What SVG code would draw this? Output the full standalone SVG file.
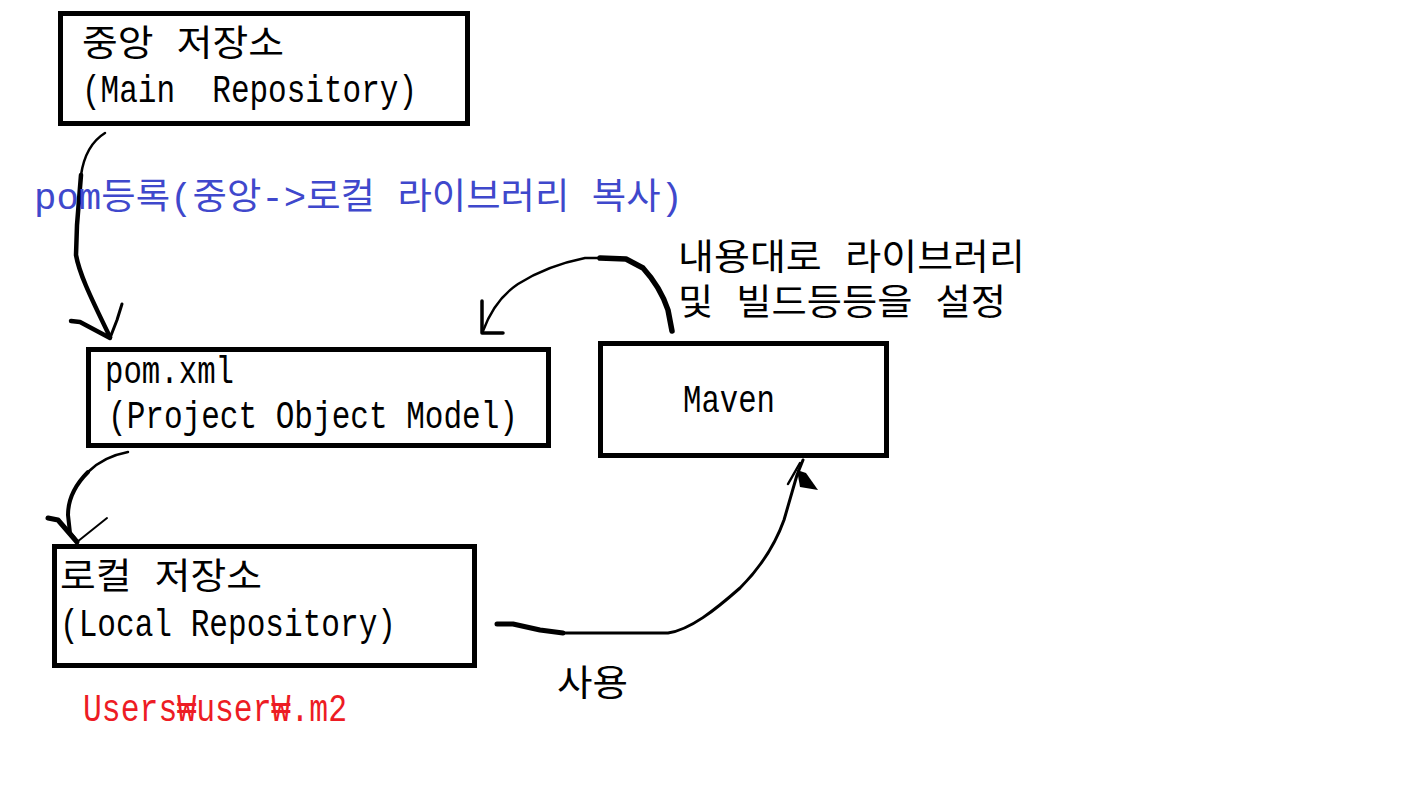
<svg xmlns="http://www.w3.org/2000/svg" width="1427" height="788" viewBox="0 0 1427 788">
<style>
.box{fill:#fff;stroke:#000;stroke-width:5}
.t{font-family:"Liberation Mono","Noto Sans CJK KR",monospace;font-size:36px;fill:#000}
.l{font-size:38px}
.c{fill:none;stroke:#000;stroke-linecap:round;stroke-linejoin:round}
</style>
<rect width="1427" height="788" fill="#fff"/>
<g id="connectors">
<path class="c" stroke-width="2.5" d="M105,133 C92,141 84,155 81,175"/>
<path class="c" stroke-width="4.5" d="M81,175 L77,225 L76,255 C79,272 88,292 110,337"/>
<path class="c" stroke-width="4.5" d="M71,321 L80,322 L110,338"/>
<path class="c" stroke-width="3" d="M122,304 L117,320 L110,338"/>
<path class="c" stroke-width="5.5" d="M672,331 L668,310 C662,292 654,280 643,268 L626,259 L600,258"/>
<path class="c" stroke-width="2.5" d="M600,258 L585,258 C565,262 540,270 518,284 C500,296 490,312 483,331"/>
<path class="c" stroke-width="3.5" d="M482,301 L482,333 L503,333"/>
<path class="c" stroke-width="2.5" d="M128,452 C112,455 98,462 88,472"/>
<path class="c" stroke-width="4" d="M88,472 C75,485 68,500 68,515 L70,533 L77,542"/>
<path class="c" stroke-width="5" d="M48,518 L58,520 L77,542"/>
<path class="c" stroke-width="2" d="M107,518 L77,542"/>
<path class="c" stroke-width="5" d="M497,624 L513,624 L540,630 L563,633"/>
<path class="c" stroke-width="3" d="M563,633 L668,633 C690,630 715,610 740,588 C760,568 775,545 784,520 L797,475 L803,460"/>
<path class="c" stroke-width="2.5" d="M788,484 L800,463"/>
<path d="M797,470 L806,473 L818,490 L800,487 Z" fill="#000"/>
</g>
<g id="main-repo">
<rect class="box" x="60.5" y="13.5" width="407" height="110"/>
<text class="t" x="82" y="56" textLength="202" lengthAdjust="spacingAndGlyphs">중앙 저장소</text>
<text class="t l" x="82" y="102" textLength="335" lengthAdjust="spacingAndGlyphs" xml:space="preserve">(Main  Repository)</text>
</g>
<g id="pom">
<rect class="box" x="88.5" y="349.5" width="460" height="96"/>
<text class="t l" x="105" y="383" textLength="129" lengthAdjust="spacingAndGlyphs">pom.xml</text>
<text class="t l" x="108" y="428" textLength="410" lengthAdjust="spacingAndGlyphs">(Project Object Model)</text>
</g>
<g id="maven">
<rect class="box" x="600.5" y="343.5" width="286" height="112"/>
<text class="t l" x="683" y="412" textLength="92" lengthAdjust="spacingAndGlyphs">Maven</text>
</g>
<g id="local-repo">
<rect class="box" x="54.5" y="546.5" width="420" height="119"/>
<text class="t" x="60" y="589" textLength="202" lengthAdjust="spacingAndGlyphs">로컬 저장소</text>
<text class="t l" x="60" y="636" textLength="336" lengthAdjust="spacingAndGlyphs">(Local Repository)</text>
</g>
<g id="labels">
<text class="t" x="34" y="209" style="fill:#3f48cc" textLength="649" lengthAdjust="spacingAndGlyphs">pom등록(중앙-&gt;로컬 라이브러리 복사)</text>
<text class="t" x="678" y="270" textLength="347" lengthAdjust="spacingAndGlyphs">내용대로 라이브러리</text>
<text class="t" x="678" y="315" textLength="328" lengthAdjust="spacingAndGlyphs">및 빌드등등을 설정</text>
<text class="t" x="557" y="696" textLength="71" lengthAdjust="spacingAndGlyphs">사용</text>
<text class="t l" x="83" y="721" style="fill:#ed1c24" textLength="264" lengthAdjust="spacingAndGlyphs">Users₩user₩.m2</text>
</g>
</svg>
